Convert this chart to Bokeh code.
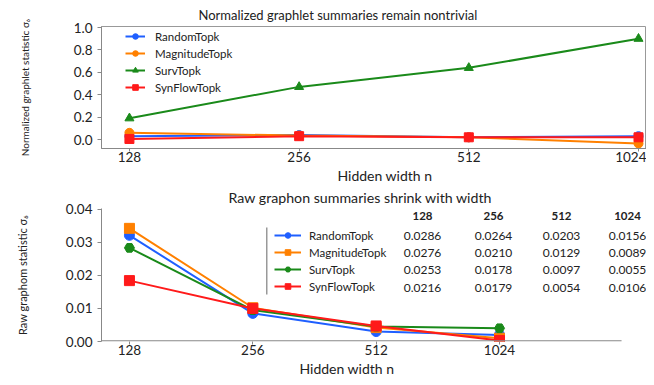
from bokeh.plotting import figure
from bokeh.layouts import column
from bokeh.models import FixedTicker, Legend, LegendItem, Label, BoxAnnotation, CustomJSTickFormatter, Title
from bokeh.embed import file_html
from bokeh.resources import INLINE

widths = [128, 256, 512, 1024]
methods = ["RandomTopk", "MagnitudeTopk", "SurvTopk", "SynFlowTopk"]
colors = ["#1f5fff", "#ff8000", "#1a8a1a", "#ff1a1a"]

# Top panel: normalized graphlet statistic
norm_random = [0.03, 0.04, 0.02, 0.03]
norm_magnitude = [0.06, 0.035, 0.02, -0.035]
norm_surv = [0.19, 0.47, 0.64, 0.90]
norm_synflow = [0.005, 0.03, 0.02, 0.02]
norm_series = [norm_random, norm_magnitude, norm_surv, norm_synflow]

# Bottom panel: raw graphon statistic
raw_random = [0.0321, 0.0085, 0.0030, 0.0020]
raw_magnitude = [0.0342, 0.0102, 0.0042, 0.0010]
raw_surv = [0.0283, 0.0095, 0.0045, 0.0040]
raw_synflow = [0.0184, 0.0100, 0.0047, 0.0003]
raw_series = [raw_random, raw_magnitude, raw_surv, raw_synflow]

# Inset table
table_cols = ["128", "256", "512", "1024"]
table_rows = [
    ["0.0286", "0.0264", "0.0203", "0.0156"],
    ["0.0276", "0.0210", "0.0129", "0.0089"],
    ["0.0253", "0.0178", "0.0097", "0.0055"],
    ["0.0216", "0.0179", "0.0054", "0.0106"],
]

FONT = "Lato"
TXT = "#222222"

def style(p):
    p.title.text_font = FONT
    p.title.text_font_style = "normal"
    p.title.align = "left"
    p.title.text_color = TXT
    for ax in p.axis:
        ax.major_label_text_font = FONT
        ax.major_label_text_font_size = "13.5px"
        ax.major_label_text_color = TXT
        ax.axis_label_text_font = FONT
        ax.axis_label_text_font_style = "normal"
        ax.axis_label_text_color = TXT
        ax.axis_line_color = "#888888"
        ax.major_tick_line_color = "#888888"
        ax.minor_tick_line_color = None
        ax.major_tick_in = 0
        ax.major_tick_out = 4
    p.xgrid.grid_line_color = None
    p.ygrid.grid_line_color = None
    p.xaxis.ticker = FixedTicker(ticks=widths)
    p.xaxis.formatter = CustomJSTickFormatter(code="return String(tick);")
    p.xaxis.major_tick_out = 3
    p.xaxis.major_label_standoff = 0

def xlabel(p, offset):
    p.add_layout(Title(text="Hidden width n", align="left", offset=offset, standoff=0,
                       text_font=FONT, text_font_size="14px", text_font_style="normal",
                       text_color=TXT), "below")

LEG = dict(border_line_alpha=0, background_fill_alpha=0,
           label_text_font=FONT, label_text_font_size="11.5px", label_text_color=TXT,
           glyph_height=14, spacing=3, padding=4)

# ---------- Top figure ----------
p1 = figure(frame_width=545, frame_height=122, x_axis_type="log", x_range=(114.2, 1058), y_range=(-0.08, 1.009),
            output_backend="svg", toolbar_location=None,
            title="Normalized graphlet summaries remain nontrivial",
            min_border_left=101, min_border_right=0, min_border_top=0, min_border_bottom=0)
style(p1)
p1.title.text_font_size = "13px"
p1.title.offset = 97
p1.title.standoff = 8
p1.outline_line_color = "#999999"
xlabel(p1, 236)
p1.yaxis.axis_label = "Normalized graphlet statistic σ₆"
p1.yaxis.axis_label_text_font_size = "10px"
p1.yaxis.axis_label_standoff = 40
p1.yaxis.ticker = FixedTicker(ticks=[0.0, 0.2, 0.4, 0.6, 0.8, 1.0])
p1.yaxis.formatter = CustomJSTickFormatter(code="return tick.toFixed(1);")

items1 = []
top_markers = ["circle", "circle", "triangle", "square"]
for name, col, ys, mk in zip(methods, colors, norm_series, top_markers):
    r = p1.line(widths, ys, color=col, line_width=2)
    m = p1.scatter(widths, ys, marker=mk, size=9, color=col)
    items1.append(LegendItem(label=name, renderers=[r, m]))
leg1 = Legend(items=items1, location=(20, 50), glyph_width=20, label_standoff=10, **LEG)
p1.add_layout(leg1)

# ---------- Bottom figure ----------
p2 = figure(frame_width=545, frame_height=133, x_axis_type="log", x_range=(109.4, 2339), y_range=(0.0, 0.0402),
            output_backend="svg", toolbar_location=None,
            title="Raw graphon summaries shrink with width",
            min_border_left=101, min_border_right=0, min_border_top=0, min_border_bottom=0)
style(p2)
p2.title.text_font_size = "14.2px"
p2.title.offset = 127
p2.title.standoff = 6
p2.outline_line_color = None
p2.xaxis.axis_line_color = None
xlabel(p2, 198)
p2.yaxis.axis_label = "Raw graphom statistic σ₆"
p2.yaxis.axis_label_text_font_size = "11px"
p2.yaxis.axis_label_standoff = 34
p2.yaxis.ticker = FixedTicker(ticks=[0.0, 0.01, 0.02, 0.03, 0.04])
p2.yaxis.formatter = CustomJSTickFormatter(code="return tick.toFixed(2);")
# visible x-axis line stops short of the frame's right edge
p2.add_layout(BoxAnnotation(left=109.4, right=2033, bottom=0, top=1.2,
                            bottom_units="screen", top_units="screen",
                            fill_color="#888888", fill_alpha=1, line_alpha=0, level="overlay"))

items2 = []
bot_markers = ["circle", "square", "hex", "square"]
for name, col, ys, mk in zip(methods, colors, raw_series, bot_markers):
    r = p2.line(widths, ys, color=col, line_width=2)
    m = p2.scatter(widths, ys, marker=mk, size=10, color=col)
    items2.append(LegendItem(label=name, renderers=[r, m]))
leg2 = Legend(items=items2, location=(169, 44), glyph_width=27, label_standoff=8, **LEG)
p2.add_layout(leg2)
p2.add_layout(BoxAnnotation(left=164.5, right=166, bottom=47, top=114,
                            left_units="screen", right_units="screen",
                            top_units="screen", bottom_units="screen",
                            fill_color="#999999", fill_alpha=1, line_alpha=0))

col_x = [321, 392, 460, 526]
for cx, head in zip(col_x, table_cols):
    p2.add_layout(Label(x=cx, y=126, x_units="screen", y_units="screen", text=head,
                        text_font=FONT, text_font_size="11.5px", text_font_style="bold",
                        text_color=TXT, text_align="center", text_baseline="middle"))
for i, row in enumerate(table_rows):
    for cx, val in zip(col_x, row):
        p2.add_layout(Label(x=cx, y=106 - 17.4 * i, x_units="screen", y_units="screen", text=val,
                            text_font=FONT, text_font_size="12px", text_color=TXT,
                            text_align="center", text_baseline="middle"))

layout = column(p1, p2, spacing=0)
open("out.html", "w").write(file_html(layout, INLINE))
